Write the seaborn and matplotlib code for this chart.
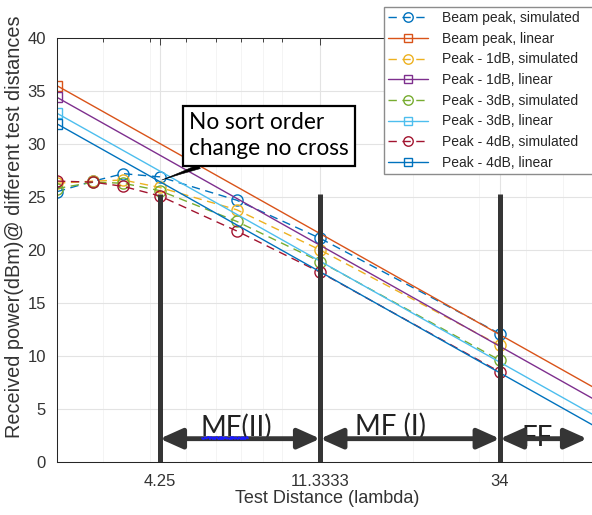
import matplotlib
matplotlib.use('Agg')
import matplotlib.pyplot as plt
import seaborn as sns
from matplotlib.ticker import FixedLocator, NullFormatter, LogLocator, FixedFormatter

# ---------------- data ----------------
distance = [34/15, 34/12, 34/10, 34/8, 34/5, 34/3, 34]
beam_sim = [25.5, 26.5, 27.2, 26.9, 24.7, 21.1, 12.1]
p1_sim = [26.3, 26.5, 26.6, 25.9, 23.8, 20.0, 11.0]
p3_sim = [25.8, 26.4, 26.3, 25.6, 22.7, 18.9, 9.6]
p4_sim = [26.5, 26.4, 26.0, 25.1, 21.8, 17.9, 8.5]

lin_distance = [34/15, 68]
beam_lin = [35.5, 6.0]
p1_lin = [34.4, 4.9]
p3_lin = [32.9, 3.4]
p4_lin = [31.9, 2.4]

x_ticks = [4.25, 34/3, 34]
x_tick_labels = ['4.25', '11.3333', '34']
y_ticks = [0, 5, 10, 15, 20, 25, 30, 35, 40]

region_bounds = [4.25, 34/3, 34, 58]
region_labels = ['MF(II)', 'MF (I)', 'FF']
boundary_top = 25.3

series = [
    ('Beam peak, simulated', distance, beam_sim, '#0072BD', 'sim'),
    ('Beam peak, linear', lin_distance, beam_lin, '#D95319', 'lin'),
    ('Peak - 1dB, simulated', distance, p1_sim, '#EDB120', 'sim'),
    ('Peak - 1dB, linear', lin_distance, p1_lin, '#7E2F8E', 'lin'),
    ('Peak - 3dB, simulated', distance, p3_sim, '#77AC30', 'sim'),
    ('Peak - 3dB, linear', lin_distance, p3_lin, '#4DBEEE', 'lin'),
    ('Peak - 4dB, simulated', distance, p4_sim, '#A2142F', 'sim'),
    ('Peak - 4dB, linear', lin_distance, p4_lin, '#0072BD', 'lin'),
]

# ---------------- style ----------------
sns.set_style('white')
plt.rcParams['font.family'] = ['Liberation Sans', 'DejaVu Sans']

W, H = 592, 515
fig = plt.figure(figsize=(W / 100, H / 100), dpi=100)
ax_left_px, ax_bottom_px, ax_top_px = 57, 462, 38
ax_width_px = 556.2
ax = fig.add_axes([ax_left_px / W, (H - ax_bottom_px) / H,
                   ax_width_px / W, (ax_bottom_px - ax_top_px) / H])

for label, xs, ys, color, kind in series:
    if kind == 'sim':
        sns.lineplot(x=xs, y=ys, ax=ax, color=color, linestyle='--', lw=1.0,
                     marker='o', markersize=8, markerfacecolor='none',
                     markeredgecolor=color, markeredgewidth=1.0, label=label)
    else:
        sns.lineplot(x=xs, y=ys, ax=ax, color=color, linestyle='-', lw=1.0,
                     marker='s', markersize=7, markerfacecolor='none',
                     markeredgecolor=color, markeredgewidth=1.0, label=label,
                     markevery=[0])

for ln, (label, xs, ys, color, kind) in zip(ax.lines, series):
    ln.set_markerfacecolor('none')
    ln.set_markeredgecolor(color)
    if kind == 'sim':
        ln.set_linestyle((0, (6, 4)))

ax.set_xscale('log')
ax.set_xlim(34/15, 68)
ax.set_ylim(0, 40)
ax.xaxis.set_major_locator(FixedLocator(x_ticks))
ax.xaxis.set_major_formatter(FixedFormatter(x_tick_labels))
ax.xaxis.set_minor_locator(LogLocator(base=10, subs=[2, 3, 4, 5, 6, 7, 8, 9]))
ax.xaxis.set_minor_formatter(NullFormatter())
ax.yaxis.set_major_locator(FixedLocator(y_ticks))

ax.set_axisbelow(True)
ax.grid(True, which='major', color='#e3e3e3', lw=0.8)
ax.grid(True, which='minor', axis='x', color='#f3f3f3', lw=0.6)

ax.tick_params(which='both', direction='in', top=True, right=True,
               color='#262626', width=0.6, labelcolor='#333333', labelsize=12)
ax.tick_params(which='major', length=5)
ax.tick_params(axis='x', which='major', pad=9)
ax.tick_params(axis='y', which='major', pad=8)
ax.tick_params(which='minor', length=3)
for s in ax.spines.values():
    s.set_color('#262626')
    s.set_linewidth(0.75)

ax.set_xlabel('Test Distance (lambda)', fontsize=13, color='#333333')
ax.set_ylabel('Received power(dBm)@ different test distances', fontsize=14.3,
              color='#333333')
ax.xaxis.set_label_coords(0.485, -0.066)
ax.yaxis.set_label_coords(-0.059, 0.555)

# region boundaries
ax.vlines(region_bounds[:3], 0, boundary_top, colors='#353535', lw=3.6, zorder=5)

# region text
label_font = ['Lato', 'DejaVu Sans']
region_text_x = [6.8, 17.4, 42.6]
region_text_y = [2.45, 2.6, 1.5]
for tx, ty, txt in zip(region_text_x, region_text_y, region_labels):
    ax.text(tx, ty, txt, ha='center', va='baseline', fontsize=20,
            family=label_font, color='#222222', zorder=6)

# double arrows
for a, b in zip(region_bounds[:-1], region_bounds[1:]):
    ax.annotate('', xy=(b, 2.2), xytext=(a, 2.2),
                arrowprops=dict(arrowstyle='<|-|>,head_length=0.85,head_width=0.38',
                                mutation_scale=16, lw=3.5, color='#353535',
                                shrinkA=0, shrinkB=0),
                zorder=7)

# squiggle under MF(II)
sq, = ax.plot([5.5, 7.3], [2.3, 2.3], color='#1a1aff', lw=1.3, zorder=8)
sq.set_sketch_params(scale=1.2, length=3, randomness=2)

# annotation box
ax.annotate('No sort order\nchange no cross', xy=(4.3, 26.6),
            xytext=(5.08, 33.0), textcoords='data', ha='left', va='top',
            fontsize=16.3, family=label_font, color='black', zorder=9,
            linespacing=1.3,
            bbox=dict(boxstyle='square,pad=0.28', fc='white', ec='black', lw=1.6),
            arrowprops=dict(arrowstyle='wedge,tail_width=0.22,shrink_factor=0.4',
                            mutation_scale=15, fc='black', ec='black', lw=0.4,
                            relpos=(0.19, 0.0), shrinkA=0, shrinkB=0))

# legend
leg = ax.legend(loc='upper left', bbox_to_anchor=(384 / W, 0, 260 / W, (H - 7) / H),
                bbox_transform=fig.transFigure, mode='expand', fontsize=10,
                frameon=True, fancybox=False, framealpha=1, edgecolor='#8c8c8c',
                borderaxespad=0, borderpad=0.3, handlelength=2.9,
                handletextpad=1.0, labelspacing=0.48, markerscale=0.85)
leg.get_frame().set_linewidth(1.0)
for t in leg.get_texts():
    t.set_color('#262626')

fig.savefig('out.png', dpi=100)
